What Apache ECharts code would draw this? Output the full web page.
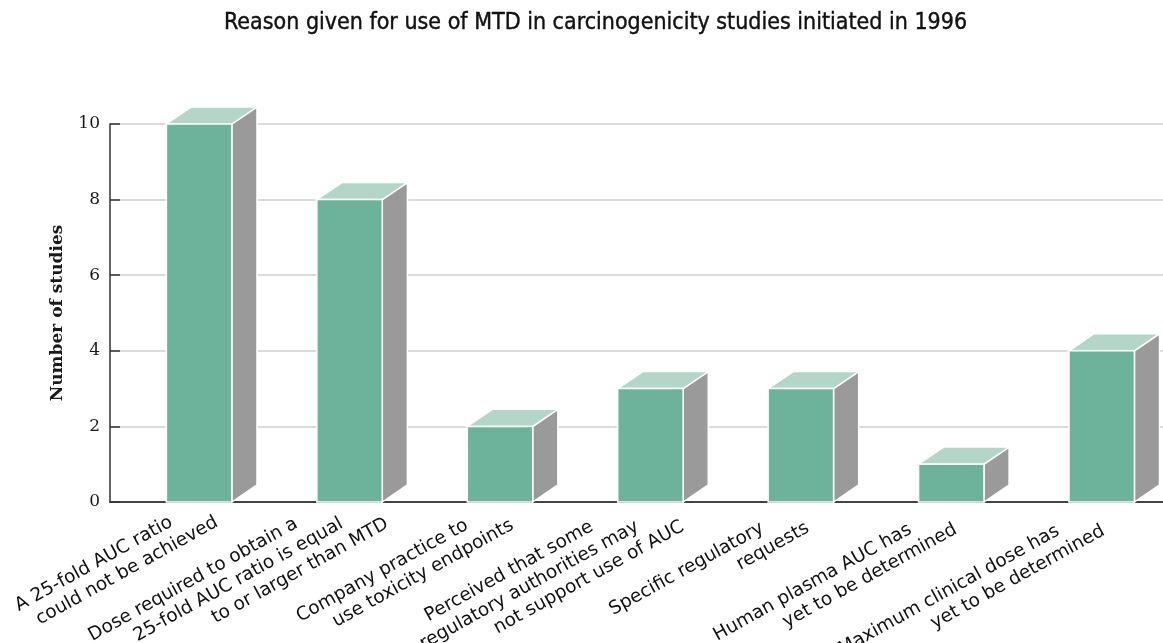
<!DOCTYPE html>
<html>
<head>
<meta charset="utf-8">
<script src="https://cdn.jsdelivr.net/npm/echarts@6/dist/echarts.min.js"></script>
<style>
  html, body { margin: 0; padding: 0; background: #ffffff; }
  #chart { width: 1163px; height: 643px; }
</style>
</head>
<body>
<div id="chart"></div>
<script>
// Reasons given for using the MTD, one entry per bar (lines split with \n)
const categories = [
  'A 25-fold AUC ratio\ncould not be achieved',
  'Dose required to obtain a\n25-fold AUC ratio is equal\nto or larger than MTD',
  'Company practice to\nuse toxicity endpoints',
  'Perceived that some\nregulatory authorities may\nnot support use of AUC',
  'Specific regulatory\nrequests',
  'Human plasma AUC has\nyet to be determined',
  'Maximum clinical dose has\nyet to be determined'
];
// Number of studies for each reason
const studyCounts = [10, 8, 2, 3, 3, 1, 4];
// Value-axis ticks
const yTicks = [0, 2, 4, 6, 8, 10];

const COLORS = { front: '#6db39b', top: '#b3d6c9', side: '#9a9a9a', edge: '#ffffff' };

// Rotated, staggered category labels: each line is shifted along the text
// direction so that the line ends sit side by side just under the axis.
const LABEL_ANGLE = 29;
const LINE_H = 22;
const STAGGER = LINE_H / Math.tan(LABEL_ANGLE * Math.PI / 180);
// label rows are spaced a little tighter than the bars: small per-label drift
const labelShift = (c) => -(10 - 3 * c);

const richStyles = {};
categories.forEach((cat, c) => {
  const n = cat.split('\n').length;
  for (let k = 0; k < n; k++) {
    const pr = ((n - 1) / 2 - k) * STAGGER + labelShift(c);
    richStyles['c' + c + 'k' + k] = {
      fontFamily: 'DejaVu Sans', fontSize: 18.5, color: '#111111',
      lineHeight: LINE_H, align: 'right', padding: [0, pr, 0, 0]
    };
  }
});
function labelFormatter(text, index) {
  return text.split('\n')
    .map((ln, k) => '{c' + index + 'k' + k + '|' + ln + '}')
    .join('\n');
}

// 3-D looking bar: front face, top face and shaded side face
function renderBar(params, api) {
  const idx = api.value(0);
  const val = api.value(1);
  const topPt = api.coord([idx, val]);
  const basePt = api.coord([idx, 0]);
  const band = api.size([1, 0])[0];
  const x0 = topPt[0] - band * 0.125;
  const x1 = x0 + band * 0.435;
  const dx = band * 0.167;
  const dy = dx * 0.68;
  const yT = topPt[1];
  const yB = basePt[1];
  const edge = { stroke: COLORS.edge, lineWidth: 1.5, lineJoin: 'miter' };
  return {
    type: 'group',
    children: [
      { type: 'polygon',
        shape: { points: [[x1, yB], [x1 + dx, yB - dy], [x1 + dx, yT - dy], [x1, yT]] },
        style: Object.assign({ fill: COLORS.side }, edge) },
      { type: 'polygon',
        shape: { points: [[x0, yT], [x0 + dx, yT - dy], [x1 + dx, yT - dy], [x1, yT]] },
        style: Object.assign({ fill: COLORS.top }, edge) },
      { type: 'rect',
        shape: { x: x0, y: yT, width: x1 - x0, height: yB - yT },
        style: Object.assign({ fill: COLORS.front }, edge) }
    ]
  };
}

const chart = echarts.init(document.getElementById('chart'), null, { renderer: 'canvas' });
chart.setOption({
  backgroundColor: '#ffffff',
  animation: false,
  title: {
    text: 'Reason given for use of MTD in carcinogenicity studies initiated in 1996',
    left: 224,
    top: 12,
    padding: 0,
    textStyle: {
      fontFamily: "'Liberation Sans Narrow', 'DejaVu Sans Condensed', sans-serif",
      fontSize: 23, fontWeight: 'normal', color: '#111111',
      textBorderColor: '#111111', textBorderWidth: 0.4
    }
  },
  grid: { left: 110, right: 0, top: 124, bottom: 141, containLabel: false, outerBoundsMode: 'none' },
  xAxis: {
    type: 'category',
    data: categories,
    axisLine: { show: true, lineStyle: { color: '#444', width: 2 } },
    axisTick: { show: false },
    splitLine: { show: false },
    axisLabel: {
      interval: 0,
      rotate: LABEL_ANGLE,
      margin: 24,
      hideOverlap: false,
      formatter: labelFormatter,
      rich: richStyles
    }
  },
  yAxis: {
    type: 'value',
    min: yTicks[0],
    max: yTicks[yTicks.length - 1],
    interval: yTicks[1] - yTicks[0],
    name: 'Number of studies',
    nameLocation: 'middle',
    nameGap: 44,
    nameTextStyle: { fontFamily: 'DejaVu Serif', fontWeight: 'bold', fontSize: 17, color: '#1a1a1a' },
    axisLine: { show: true, lineStyle: { color: '#333', width: 1.5 } },
    axisTick: { show: true, inside: true, length: 10, lineStyle: { color: '#333', width: 1.5 } },
    splitLine: { show: true, lineStyle: { color: '#cfcfcf', width: 1.5 } },
    axisLabel: { fontFamily: 'DejaVu Serif', fontSize: 17, color: '#1a1a1a', margin: 10 }
  },
  series: [{
    type: 'custom',
    renderItem: renderBar,
    clip: false,
    encode: { x: 0, y: 1 },
    data: studyCounts.map((v, i) => [i, v]),
    z: 3
  }]
});
</script>
</body>
</html>
